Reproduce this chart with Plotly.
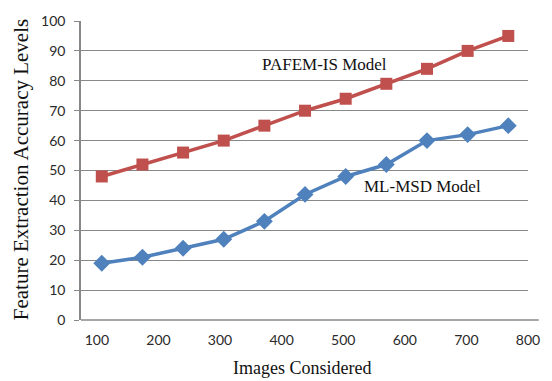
import plotly.graph_objects as go

images = [108, 174, 240, 306, 372, 438, 504, 570, 636, 702, 768]
pafem_is = [48, 52, 56, 60, 65, 70, 74, 79, 84, 90, 95]
ml_msd = [19, 21, 24, 27, 33, 42, 48, 52, 60, 62, 65]
x_ticks = [100, 200, 300, 400, 500, 600, 700, 800]
y_ticks = [0, 10, 20, 30, 40, 50, 60, 70, 80, 90, 100]

RED = "#C0504D"
BLUE = "#4F81BD"
GRID = "#888888"
SERIF = "Liberation Serif, Times New Roman, serif"
SANS = "Lato, Open Sans, sans-serif"

fig = go.Figure()
fig.add_trace(go.Scatter(
    x=images, y=pafem_is, mode="lines+markers", name="PAFEM-IS Model",
    line=dict(color=RED, width=3.5),
    marker=dict(symbol="square", size=12, color=RED),
))
fig.add_trace(go.Scatter(
    x=images, y=ml_msd, mode="lines+markers", name="ML-MSD Model",
    line=dict(color=BLUE, width=3.5),
    marker=dict(symbol="diamond", size=13, color=BLUE),
))

fig.update_layout(
    width=552, height=381,
    margin=dict(l=81, r=20, t=18, b=61),
    paper_bgcolor="white", plot_bgcolor="white",
    showlegend=False,
    xaxis=dict(
        range=[74.25, 800], tickvals=x_ticks, ticktext=[str(v) for v in x_ticks],
        showgrid=False, zeroline=False, showline=False, ticks="",
        tickfont=dict(family=SANS, size=14, color="#2a2a2a"),
        ticklabelstandoff=10,
    ),
    yaxis=dict(
        range=[0, 100], tickvals=y_ticks, ticktext=[str(v) for v in y_ticks],
        showgrid=True, gridcolor=GRID, gridwidth=1.4,
        zeroline=False, showline=True, linecolor=GRID, linewidth=1.5,
        ticks="outside", ticklen=5, tickcolor=GRID, tickwidth=1.3,
        tickfont=dict(family=SANS, size=14, color="#2a2a2a"),
        ticklabelstandoff=6,
    ),
    font=dict(family=SERIF),
)

# x axis line (extends slightly past the plot area as in the original)
fig.add_shape(type="line", xref="paper", yref="paper", x0=0, x1=1.024, y0=0, y1=0,
              line=dict(color=GRID, width=1.5))

fig.add_annotation(text="PAFEM-IS Model", x=470, y=85.4, xref="x", yref="y",
                   showarrow=False, font=dict(family=SERIF, size=17, color="#111111"))
fig.add_annotation(text="ML-MSD Model", x=629, y=44.7, xref="x", yref="y",
                   showarrow=False, font=dict(family=SERIF, size=17, color="#111111"))

fig.add_annotation(text="Images Considered", xref="paper", yref="paper",
                   x=0.495, y=-0.159, xanchor="center", yanchor="middle",
                   showarrow=False, font=dict(family=SERIF, size=18, color="#111111"))
fig.add_annotation(text="Feature Extraction Accuracy Levels", xref="paper", yref="paper",
                   x=-0.135, y=0.503, xanchor="center", yanchor="middle", textangle=-90,
                   showarrow=False, font=dict(family=SERIF, size=21, color="#111111"))

fig.write_html("out.html")
